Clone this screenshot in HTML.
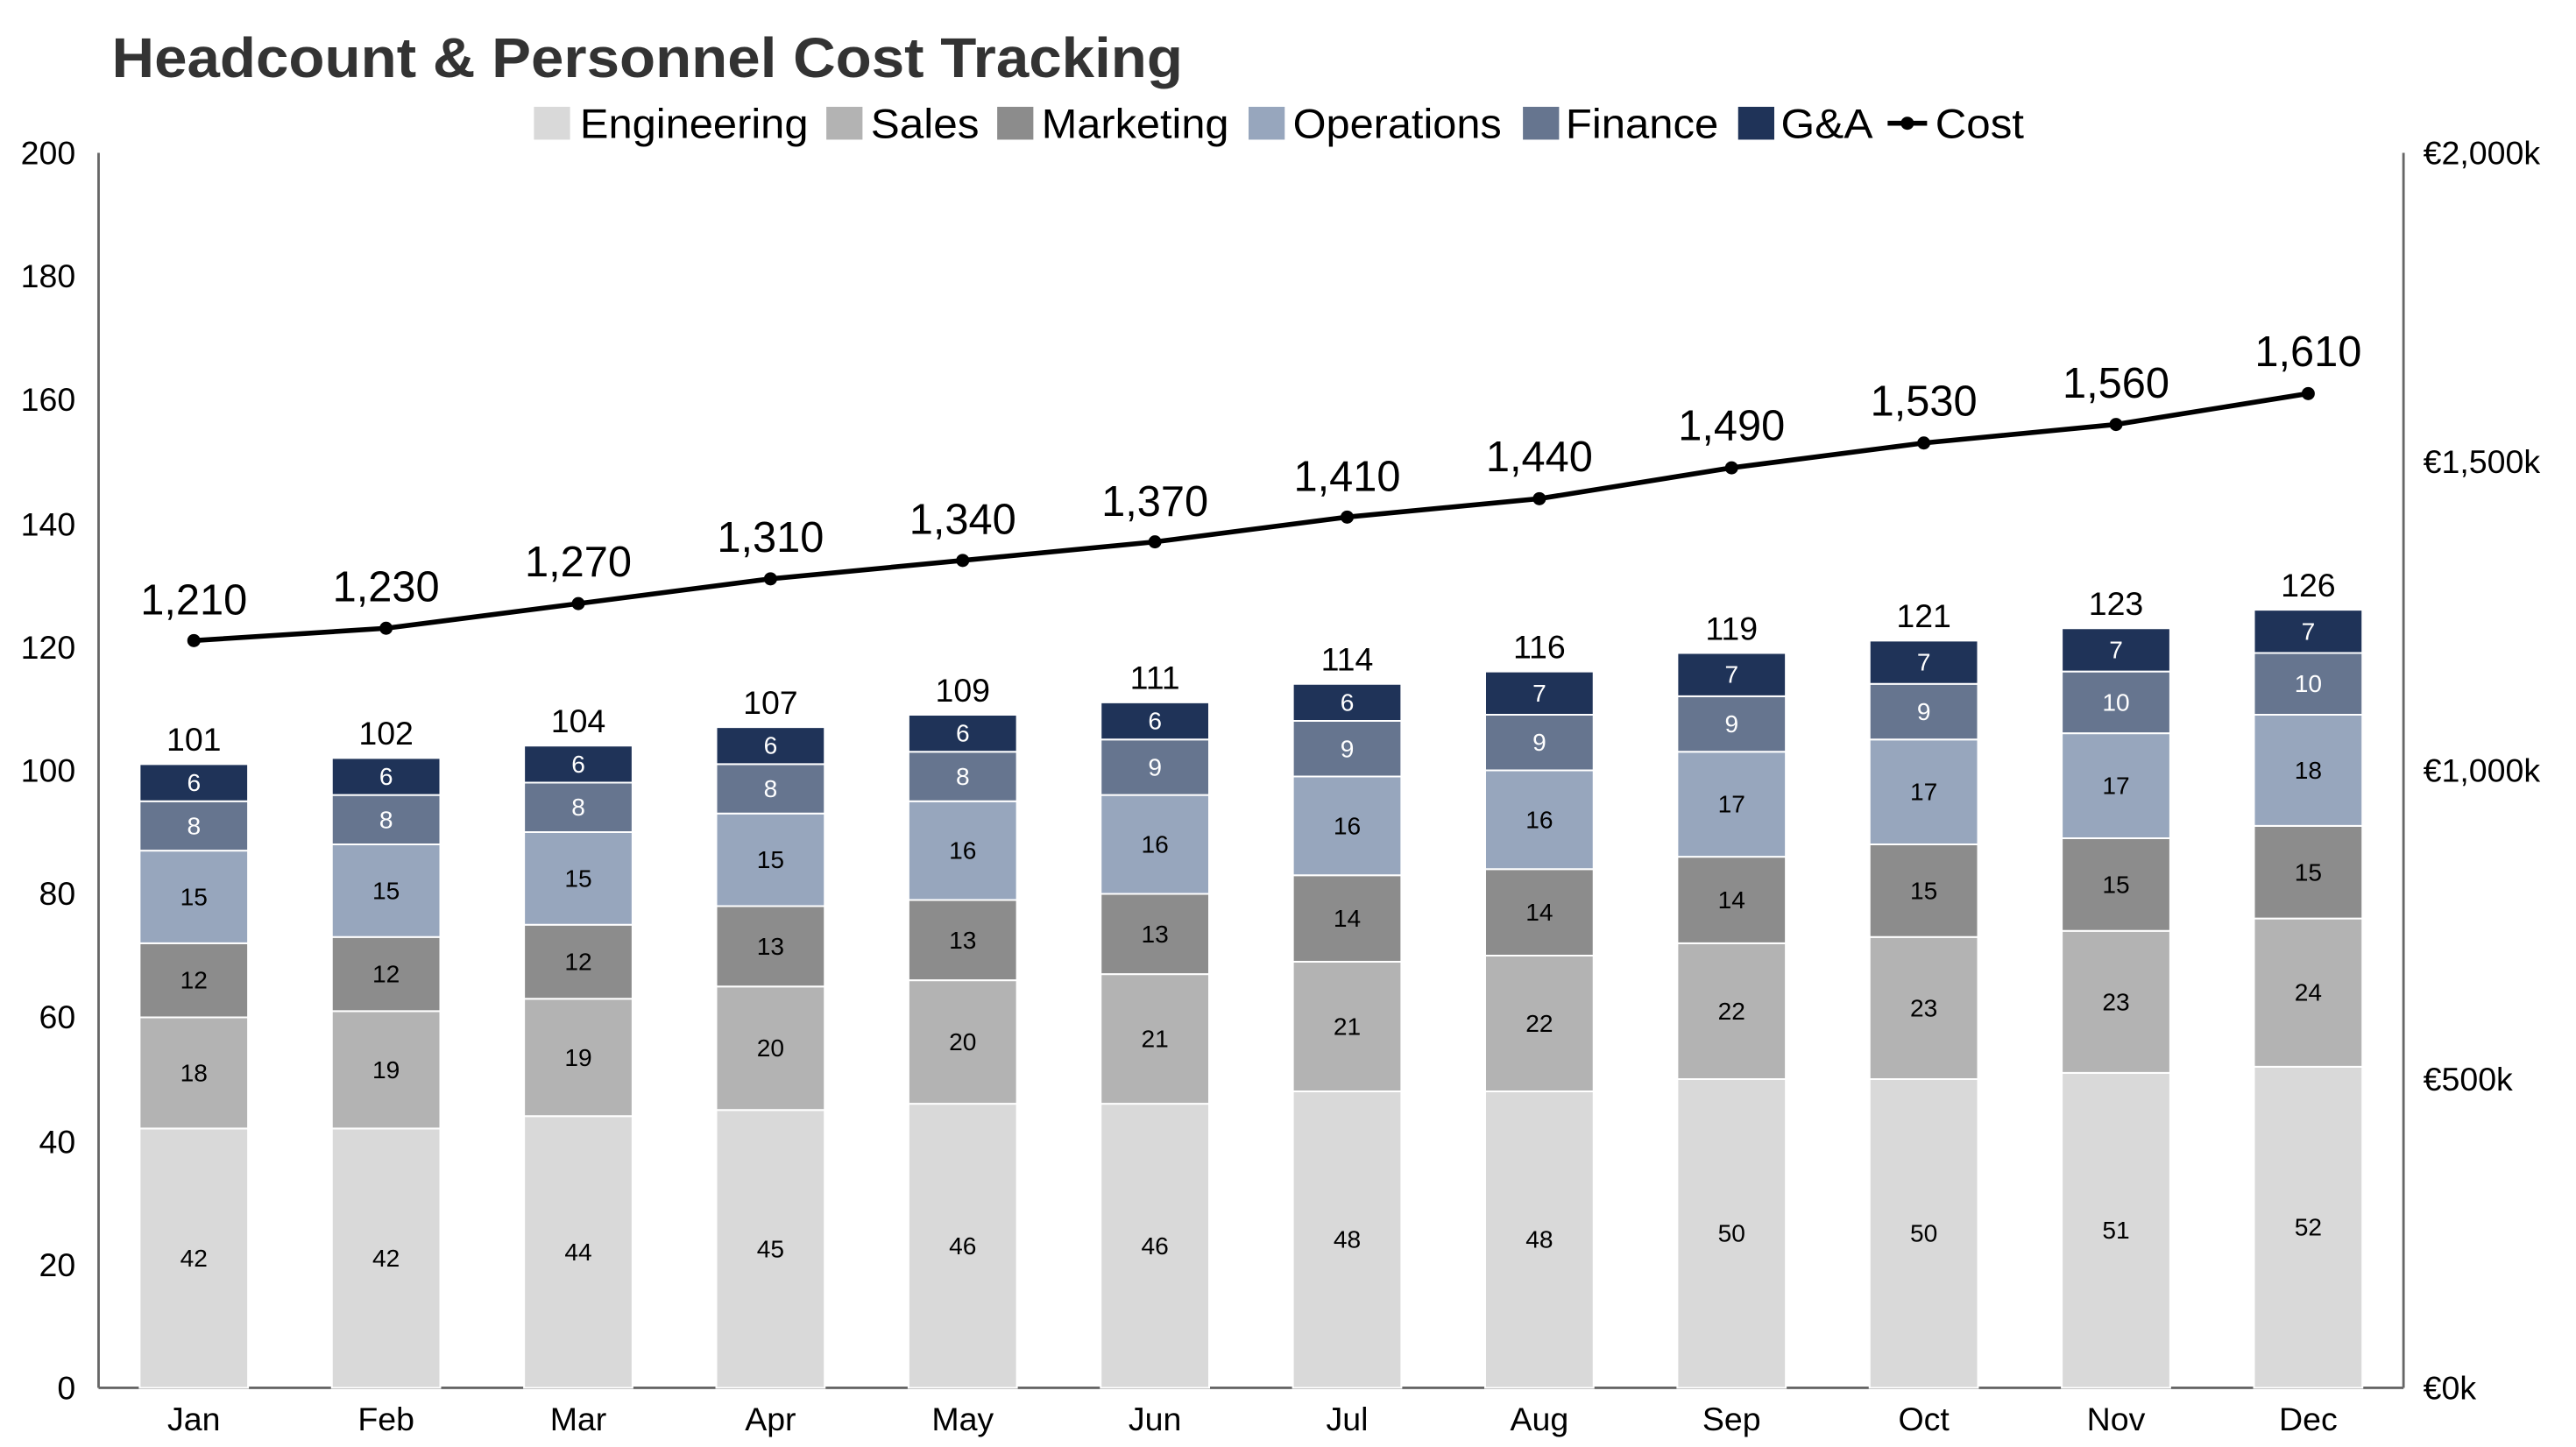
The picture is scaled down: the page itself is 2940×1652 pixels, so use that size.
<!DOCTYPE html>
<html><head><meta charset="utf-8"><style>
html,body{margin:0;padding:0;background:#fff}
svg{display:block}
text{font-family:"Liberation Sans",Arial,sans-serif}
</style></head><body>
<svg width="2940" height="1652" viewBox="0 0 1568 881" xmlns="http://www.w3.org/2000/svg">
<text x="68" y="47" font-size="34" font-weight="bold" fill="#333" textLength="652" lengthAdjust="spacingAndGlyphs">Headcount &amp; Personnel Cost Tracking</text>
<g font-size="25" fill="#000">
<rect x="325" y="65" width="22" height="20" fill="#d9d9d9"/><text x="353" y="84" textLength="139" lengthAdjust="spacingAndGlyphs">Engineering</text>
<rect x="503" y="65" width="22" height="20" fill="#b3b3b3"/><text x="530" y="84" textLength="66" lengthAdjust="spacingAndGlyphs">Sales</text>
<rect x="607" y="65" width="22" height="20" fill="#8c8c8c"/><text x="634" y="84" textLength="114" lengthAdjust="spacingAndGlyphs">Marketing</text>
<rect x="760" y="65" width="22" height="20" fill="#97a6bd"/><text x="787" y="84" textLength="127" lengthAdjust="spacingAndGlyphs">Operations</text>
<rect x="927" y="65" width="22" height="20" fill="#66758f"/><text x="953" y="84" textLength="93" lengthAdjust="spacingAndGlyphs">Finance</text>
<rect x="1058" y="65" width="22" height="20" fill="#1f3358"/><text x="1084" y="84" textLength="56" lengthAdjust="spacingAndGlyphs">G&amp;A</text>
<line x1="1149" y1="75" x2="1173" y2="75" stroke="#000" stroke-width="3"/><circle cx="1161" cy="75" r="4"/><text x="1178" y="84" textLength="54" lengthAdjust="spacingAndGlyphs">Cost</text>
</g>
<g stroke="#666" stroke-width="1.5"><line x1="60" y1="93" x2="60" y2="845"/><line x1="1463" y1="93" x2="1463" y2="845"/><line x1="60" y1="845" x2="1463" y2="845"/></g>
<g font-size="20" text-anchor="end" fill="#000">
<text x="46" y="852">0</text><text x="46" y="777">20</text><text x="46" y="702">40</text><text x="46" y="626">60</text><text x="46" y="551">80</text><text x="46" y="476">100</text><text x="46" y="401">120</text><text x="46" y="326">140</text><text x="46" y="250">160</text><text x="46" y="175">180</text><text x="46" y="100">200</text>
</g>
<g font-size="20" fill="#000">
<text x="1475" y="852">€0k</text><text x="1475" y="664">€500k</text><text x="1475" y="476">€1,000k</text><text x="1475" y="288">€1,500k</text><text x="1475" y="100">€2,000k</text>
</g>
<g font-size="20" text-anchor="middle" fill="#000">
<text x="118" y="871">Jan</text><text x="235" y="871">Feb</text><text x="352" y="871">Mar</text><text x="469" y="871">Apr</text><text x="586" y="871">May</text><text x="703" y="871">Jun</text><text x="820" y="871">Jul</text><text x="937" y="871">Aug</text><text x="1054" y="871">Sep</text><text x="1171" y="871">Oct</text><text x="1288" y="871">Nov</text><text x="1405" y="871">Dec</text>
</g>
<g transform="translate(0,845) scale(1,-3.76)" stroke="#fff" stroke-width="2">
<g fill="#d9d9d9">
<rect x="85" y="0" width="66" height="42" vector-effect="non-scaling-stroke"/><rect x="202" y="0" width="66" height="42" vector-effect="non-scaling-stroke"/><rect x="319" y="0" width="66" height="44" vector-effect="non-scaling-stroke"/><rect x="436" y="0" width="66" height="45" vector-effect="non-scaling-stroke"/><rect x="553" y="0" width="66" height="46" vector-effect="non-scaling-stroke"/><rect x="670" y="0" width="66" height="46" vector-effect="non-scaling-stroke"/><rect x="787" y="0" width="66" height="48" vector-effect="non-scaling-stroke"/><rect x="904" y="0" width="66" height="48" vector-effect="non-scaling-stroke"/><rect x="1021" y="0" width="66" height="50" vector-effect="non-scaling-stroke"/><rect x="1138" y="0" width="66" height="50" vector-effect="non-scaling-stroke"/><rect x="1255" y="0" width="66" height="51" vector-effect="non-scaling-stroke"/><rect x="1372" y="0" width="66" height="52" vector-effect="non-scaling-stroke"/>
</g>
<g fill="#b3b3b3">
<rect x="85" y="42" width="66" height="18" vector-effect="non-scaling-stroke"/><rect x="202" y="42" width="66" height="19" vector-effect="non-scaling-stroke"/><rect x="319" y="44" width="66" height="19" vector-effect="non-scaling-stroke"/><rect x="436" y="45" width="66" height="20" vector-effect="non-scaling-stroke"/><rect x="553" y="46" width="66" height="20" vector-effect="non-scaling-stroke"/><rect x="670" y="46" width="66" height="21" vector-effect="non-scaling-stroke"/><rect x="787" y="48" width="66" height="21" vector-effect="non-scaling-stroke"/><rect x="904" y="48" width="66" height="22" vector-effect="non-scaling-stroke"/><rect x="1021" y="50" width="66" height="22" vector-effect="non-scaling-stroke"/><rect x="1138" y="50" width="66" height="23" vector-effect="non-scaling-stroke"/><rect x="1255" y="51" width="66" height="23" vector-effect="non-scaling-stroke"/><rect x="1372" y="52" width="66" height="24" vector-effect="non-scaling-stroke"/>
</g>
<g fill="#8c8c8c">
<rect x="85" y="60" width="66" height="12" vector-effect="non-scaling-stroke"/><rect x="202" y="61" width="66" height="12" vector-effect="non-scaling-stroke"/><rect x="319" y="63" width="66" height="12" vector-effect="non-scaling-stroke"/><rect x="436" y="65" width="66" height="13" vector-effect="non-scaling-stroke"/><rect x="553" y="66" width="66" height="13" vector-effect="non-scaling-stroke"/><rect x="670" y="67" width="66" height="13" vector-effect="non-scaling-stroke"/><rect x="787" y="69" width="66" height="14" vector-effect="non-scaling-stroke"/><rect x="904" y="70" width="66" height="14" vector-effect="non-scaling-stroke"/><rect x="1021" y="72" width="66" height="14" vector-effect="non-scaling-stroke"/><rect x="1138" y="73" width="66" height="15" vector-effect="non-scaling-stroke"/><rect x="1255" y="74" width="66" height="15" vector-effect="non-scaling-stroke"/><rect x="1372" y="76" width="66" height="15" vector-effect="non-scaling-stroke"/>
</g>
<g fill="#97a6bd">
<rect x="85" y="72" width="66" height="15" vector-effect="non-scaling-stroke"/><rect x="202" y="73" width="66" height="15" vector-effect="non-scaling-stroke"/><rect x="319" y="75" width="66" height="15" vector-effect="non-scaling-stroke"/><rect x="436" y="78" width="66" height="15" vector-effect="non-scaling-stroke"/><rect x="553" y="79" width="66" height="16" vector-effect="non-scaling-stroke"/><rect x="670" y="80" width="66" height="16" vector-effect="non-scaling-stroke"/><rect x="787" y="83" width="66" height="16" vector-effect="non-scaling-stroke"/><rect x="904" y="84" width="66" height="16" vector-effect="non-scaling-stroke"/><rect x="1021" y="86" width="66" height="17" vector-effect="non-scaling-stroke"/><rect x="1138" y="88" width="66" height="17" vector-effect="non-scaling-stroke"/><rect x="1255" y="89" width="66" height="17" vector-effect="non-scaling-stroke"/><rect x="1372" y="91" width="66" height="18" vector-effect="non-scaling-stroke"/>
</g>
<g fill="#66758f">
<rect x="85" y="87" width="66" height="8" vector-effect="non-scaling-stroke"/><rect x="202" y="88" width="66" height="8" vector-effect="non-scaling-stroke"/><rect x="319" y="90" width="66" height="8" vector-effect="non-scaling-stroke"/><rect x="436" y="93" width="66" height="8" vector-effect="non-scaling-stroke"/><rect x="553" y="95" width="66" height="8" vector-effect="non-scaling-stroke"/><rect x="670" y="96" width="66" height="9" vector-effect="non-scaling-stroke"/><rect x="787" y="99" width="66" height="9" vector-effect="non-scaling-stroke"/><rect x="904" y="100" width="66" height="9" vector-effect="non-scaling-stroke"/><rect x="1021" y="103" width="66" height="9" vector-effect="non-scaling-stroke"/><rect x="1138" y="105" width="66" height="9" vector-effect="non-scaling-stroke"/><rect x="1255" y="106" width="66" height="10" vector-effect="non-scaling-stroke"/><rect x="1372" y="109" width="66" height="10" vector-effect="non-scaling-stroke"/>
</g>
<g fill="#1f3358">
<rect x="85" y="95" width="66" height="6" vector-effect="non-scaling-stroke"/><rect x="202" y="96" width="66" height="6" vector-effect="non-scaling-stroke"/><rect x="319" y="98" width="66" height="6" vector-effect="non-scaling-stroke"/><rect x="436" y="101" width="66" height="6" vector-effect="non-scaling-stroke"/><rect x="553" y="103" width="66" height="6" vector-effect="non-scaling-stroke"/><rect x="670" y="105" width="66" height="6" vector-effect="non-scaling-stroke"/><rect x="787" y="108" width="66" height="6" vector-effect="non-scaling-stroke"/><rect x="904" y="109" width="66" height="7" vector-effect="non-scaling-stroke"/><rect x="1021" y="112" width="66" height="7" vector-effect="non-scaling-stroke"/><rect x="1138" y="114" width="66" height="7" vector-effect="non-scaling-stroke"/><rect x="1255" y="116" width="66" height="7" vector-effect="non-scaling-stroke"/><rect x="1372" y="119" width="66" height="7" vector-effect="non-scaling-stroke"/>
</g>
</g>
<polyline fill="none" stroke="#000" stroke-width="3" points="118,390 235,382.5 352,367.5 469,352.4 586,341.2 703,329.9 820,314.8 937,303.6 1054,284.8 1171,269.7 1288,258.4 1405,239.6"/>
<g fill="#000"><circle cx="118" cy="390" r="4"/><circle cx="235" cy="382.5" r="4"/><circle cx="352" cy="367.5" r="4"/><circle cx="469" cy="352.4" r="4"/><circle cx="586" cy="341.2" r="4"/><circle cx="703" cy="329.9" r="4"/><circle cx="820" cy="314.8" r="4"/><circle cx="937" cy="303.6" r="4"/><circle cx="1054" cy="284.8" r="4"/><circle cx="1171" cy="269.7" r="4"/><circle cx="1288" cy="258.4" r="4"/><circle cx="1405" cy="239.6" r="4"/></g>
<g font-size="26" text-anchor="middle" fill="#000">
<text x="118" y="374">1,210</text><text x="235" y="366">1,230</text><text x="352" y="351">1,270</text><text x="469" y="336">1,310</text><text x="586" y="325">1,340</text><text x="703" y="314">1,370</text><text x="820" y="299">1,410</text><text x="937" y="287">1,440</text><text x="1054" y="268">1,490</text><text x="1171" y="253">1,530</text><text x="1288" y="242">1,560</text><text x="1405" y="223">1,610</text>
</g>
<g transform="translate(0,845) scale(1,-3.76)" font-size="15" text-anchor="middle" dominant-baseline="central">
<g fill="#000">
<text transform="translate(118,21) scale(1,-0.26596)">42</text><text transform="translate(118,51) scale(1,-0.26596)">18</text><text transform="translate(118,66) scale(1,-0.26596)">12</text><text transform="translate(118,79.5) scale(1,-0.26596)">15</text>
<text transform="translate(235,21) scale(1,-0.26596)">42</text><text transform="translate(235,51.5) scale(1,-0.26596)">19</text><text transform="translate(235,67) scale(1,-0.26596)">12</text><text transform="translate(235,80.5) scale(1,-0.26596)">15</text>
<text transform="translate(352,22) scale(1,-0.26596)">44</text><text transform="translate(352,53.5) scale(1,-0.26596)">19</text><text transform="translate(352,69) scale(1,-0.26596)">12</text><text transform="translate(352,82.5) scale(1,-0.26596)">15</text>
<text transform="translate(469,22.5) scale(1,-0.26596)">45</text><text transform="translate(469,55) scale(1,-0.26596)">20</text><text transform="translate(469,71.5) scale(1,-0.26596)">13</text><text transform="translate(469,85.5) scale(1,-0.26596)">15</text>
<text transform="translate(586,23) scale(1,-0.26596)">46</text><text transform="translate(586,56) scale(1,-0.26596)">20</text><text transform="translate(586,72.5) scale(1,-0.26596)">13</text><text transform="translate(586,87) scale(1,-0.26596)">16</text>
<text transform="translate(703,23) scale(1,-0.26596)">46</text><text transform="translate(703,56.5) scale(1,-0.26596)">21</text><text transform="translate(703,73.5) scale(1,-0.26596)">13</text><text transform="translate(703,88) scale(1,-0.26596)">16</text>
<text transform="translate(820,24) scale(1,-0.26596)">48</text><text transform="translate(820,58.5) scale(1,-0.26596)">21</text><text transform="translate(820,76) scale(1,-0.26596)">14</text><text transform="translate(820,91) scale(1,-0.26596)">16</text>
<text transform="translate(937,24) scale(1,-0.26596)">48</text><text transform="translate(937,59) scale(1,-0.26596)">22</text><text transform="translate(937,77) scale(1,-0.26596)">14</text><text transform="translate(937,92) scale(1,-0.26596)">16</text>
<text transform="translate(1054,25) scale(1,-0.26596)">50</text><text transform="translate(1054,61) scale(1,-0.26596)">22</text><text transform="translate(1054,79) scale(1,-0.26596)">14</text><text transform="translate(1054,94.5) scale(1,-0.26596)">17</text>
<text transform="translate(1171,25) scale(1,-0.26596)">50</text><text transform="translate(1171,61.5) scale(1,-0.26596)">23</text><text transform="translate(1171,80.5) scale(1,-0.26596)">15</text><text transform="translate(1171,96.5) scale(1,-0.26596)">17</text>
<text transform="translate(1288,25.5) scale(1,-0.26596)">51</text><text transform="translate(1288,62.5) scale(1,-0.26596)">23</text><text transform="translate(1288,81.5) scale(1,-0.26596)">15</text><text transform="translate(1288,97.5) scale(1,-0.26596)">17</text>
<text transform="translate(1405,26) scale(1,-0.26596)">52</text><text transform="translate(1405,64) scale(1,-0.26596)">24</text><text transform="translate(1405,83.5) scale(1,-0.26596)">15</text><text transform="translate(1405,100) scale(1,-0.26596)">18</text>
</g>
<g fill="#fff">
<text transform="translate(118,91) scale(1,-0.26596)">8</text><text transform="translate(118,98) scale(1,-0.26596)">6</text>
<text transform="translate(235,92) scale(1,-0.26596)">8</text><text transform="translate(235,99) scale(1,-0.26596)">6</text>
<text transform="translate(352,94) scale(1,-0.26596)">8</text><text transform="translate(352,101) scale(1,-0.26596)">6</text>
<text transform="translate(469,97) scale(1,-0.26596)">8</text><text transform="translate(469,104) scale(1,-0.26596)">6</text>
<text transform="translate(586,99) scale(1,-0.26596)">8</text><text transform="translate(586,106) scale(1,-0.26596)">6</text>
<text transform="translate(703,100.5) scale(1,-0.26596)">9</text><text transform="translate(703,108) scale(1,-0.26596)">6</text>
<text transform="translate(820,103.5) scale(1,-0.26596)">9</text><text transform="translate(820,111) scale(1,-0.26596)">6</text>
<text transform="translate(937,104.5) scale(1,-0.26596)">9</text><text transform="translate(937,112.5) scale(1,-0.26596)">7</text>
<text transform="translate(1054,107.5) scale(1,-0.26596)">9</text><text transform="translate(1054,115.5) scale(1,-0.26596)">7</text>
<text transform="translate(1171,109.5) scale(1,-0.26596)">9</text><text transform="translate(1171,117.5) scale(1,-0.26596)">7</text>
<text transform="translate(1288,111) scale(1,-0.26596)">10</text><text transform="translate(1288,119.5) scale(1,-0.26596)">7</text>
<text transform="translate(1405,114) scale(1,-0.26596)">10</text><text transform="translate(1405,122.5) scale(1,-0.26596)">7</text>
</g>
<g fill="#000" font-size="20">
<text transform="translate(118,105) scale(1,-0.26596)">101</text><text transform="translate(235,106) scale(1,-0.26596)">102</text><text transform="translate(352,108) scale(1,-0.26596)">104</text><text transform="translate(469,111) scale(1,-0.26596)">107</text><text transform="translate(586,113) scale(1,-0.26596)">109</text><text transform="translate(703,115) scale(1,-0.26596)">111</text><text transform="translate(820,118) scale(1,-0.26596)">114</text><text transform="translate(937,120) scale(1,-0.26596)">116</text><text transform="translate(1054,123) scale(1,-0.26596)">119</text><text transform="translate(1171,125) scale(1,-0.26596)">121</text><text transform="translate(1288,127) scale(1,-0.26596)">123</text><text transform="translate(1405,130) scale(1,-0.26596)">126</text>
</g>
</g>
</svg>
</body></html>
